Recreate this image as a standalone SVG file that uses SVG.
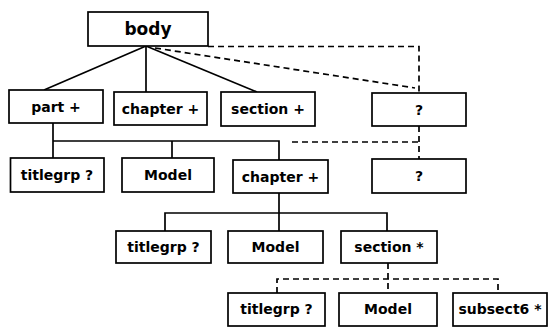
<svg xmlns="http://www.w3.org/2000/svg" width="549" height="329" viewBox="0 0 549 329">
<style>
.box{fill:#fff;stroke:#000;stroke-width:1.7}
.t{font-family:"DejaVu Sans",Verdana,sans-serif;font-weight:bold;font-size:14px;text-anchor:middle;fill:#000}
.big{font-size:17px}
.s{fill:none;stroke:#000;stroke-width:1.7}
.d{fill:none;stroke:#000;stroke-width:1.7;stroke-dasharray:6 4}
</style>
<rect width="549" height="329" fill="#fff"/>
<g id="connectors">
<line class="s" x1="146" y1="46" x2="44" y2="90"/>
<line class="s" x1="146" y1="46" x2="146" y2="92"/>
<line class="s" x1="146" y1="46" x2="257" y2="92"/>
<polyline class="d" points="208,46.5 419,46.5 419,93"/>
<line class="d" x1="155" y1="48" x2="415" y2="88"/>
<polyline class="s" points="53,123 53,158"/>
<polyline class="s" points="53,141 279,141 279,160"/>
<line class="s" x1="172" y1="141" x2="172" y2="158"/>
<polyline class="d" points="292,142 419,142"/>
<line class="d" x1="419" y1="126" x2="419" y2="159"/>
<line class="s" x1="279" y1="193" x2="279" y2="231"/>
<polyline class="s" points="165,231 165,213 387,213 387,231"/>
<line class="d" x1="388" y1="263" x2="388" y2="293"/>
<polyline class="d" points="277,293 277,279 498,279 498,293"/>
</g>
<g id="body"><rect class="box" x="88" y="12" width="120" height="34"/><text class="t big" x="148" y="35">body</text></g>
<g id="part"><rect class="box" x="9" y="90" width="94" height="33"/><text class="t" x="56" y="112">part +</text></g>
<g id="chapter1"><rect class="box" x="114" y="92" width="93" height="33"/><text class="t" x="160.5" y="113.5">chapter +</text></g>
<g id="section1"><rect class="box" x="221" y="92" width="94" height="34"/><text class="t" x="268" y="114">section +</text></g>
<g id="q1"><rect class="box" x="372" y="93" width="94" height="33"/><text class="t" x="419" y="114.5">?</text></g>
<g id="titlegrp1"><rect class="box" x="10.5" y="158" width="93.5" height="34"/><text class="t" x="57" y="180">titlegrp ?</text></g>
<g id="model1"><rect class="box" x="122" y="158" width="92" height="34"/><text class="t" x="168" y="180">Model</text></g>
<g id="chapter2"><rect class="box" x="233" y="160" width="95" height="33"/><text class="t" x="280.5" y="181.5">chapter +</text></g>
<g id="q2"><rect class="box" x="372" y="159" width="94" height="34"/><text class="t" x="419" y="181">?</text></g>
<g id="titlegrp2"><rect class="box" x="116" y="231" width="95" height="32"/><text class="t" x="163.5" y="252">titlegrp ?</text></g>
<g id="model2"><rect class="box" x="228" y="231" width="95" height="32"/><text class="t" x="275.5" y="252">Model</text></g>
<g id="section2"><rect class="box" x="341" y="231" width="96" height="32"/><text class="t" x="389" y="252">section *</text></g>
<g id="titlegrp3"><rect class="box" x="228" y="293" width="97" height="33"/><text class="t" x="276.5" y="314">titlegrp ?</text></g>
<g id="model3"><rect class="box" x="339" y="293" width="98" height="33"/><text class="t" x="388" y="314">Model</text></g>
<g id="subsect6"><rect class="box" x="453" y="293" width="94" height="33"/><text class="t" x="500" y="314">subsect6 *</text></g>
</svg>
